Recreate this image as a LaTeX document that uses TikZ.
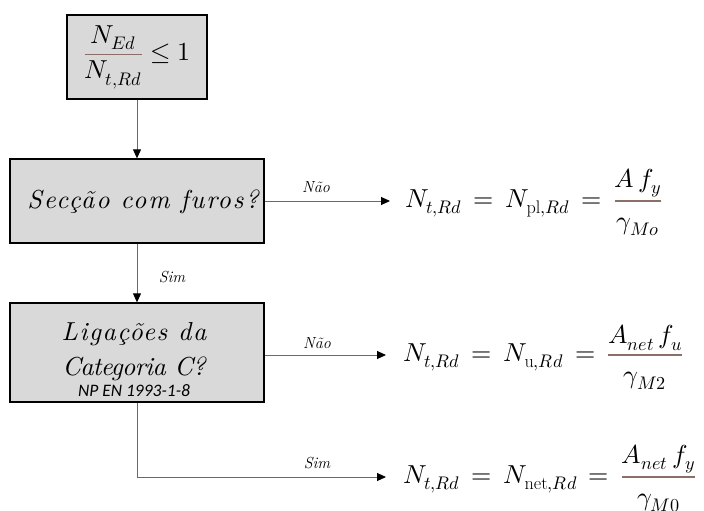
\documentclass[tikz,border=0pt]{standalone}
\usepackage{fontspec}
\usepackage{unicode-math}
\setmathfont{Latin Modern Math}
\newfontfamily\carlito{Carlito}
% tracked italic faces for the box lettering
\newfontfamily\itwide[LetterSpace=7]{lmroman10-italic.otf}
\newfontfamily\itmid[LetterSpace=6]{lmroman10-italic.otf}
\newfontfamily\itnarrow[LetterSpace=-2.5]{lmroman10-italic.otf}
\usetikzlibrary{arrows.meta}

\definecolor{boxfill}{RGB}{217,217,217}
\definecolor{linegray}{RGB}{105,105,105}
\definecolor{fracrule}{RGB}{140,110,105}

% fraction whose rule is drawn in a warm grey, terms stay black;
% the strut gives the denominator some extra drop
\newcommand{\rfrac}[2]{{\color{fracrule}\frac{\color{black}#1}{\color{black}\rule{0pt}{0.95em}#2}}}
% relation sign with a little extra room
\newcommand{\weq}{\,=\,}

\tikzset{
  qbox/.style={draw=black, line width=1.3pt, fill=boxfill, inner sep=0pt},
  conn/.style={draw=linegray, line width=0.9pt},
  arr/.style={conn, -{Triangle[length=9pt,width=8pt,color=black]}},
  tag/.style={font=\fontsize{16}{18}\selectfont\itshape, inner sep=0pt},
  boxtext/.style={inner sep=0pt, anchor=base},
  formula/.style={font=\fontsize{26}{30}\selectfont, inner sep=0pt, anchor=base west},
}

\begin{document}
\begin{tikzpicture}[x=1pt,y=-1pt]
  \useasboundingbox (0,0) rectangle (704,511);

  % decision boxes
  \node[qbox, minimum width=140pt, minimum height=84pt, font=\fontsize{26}{30}\selectfont]
    (b1) at (137,57) {$\displaystyle {\color{fracrule}\frac{\color{black}N_{Ed}}{\color{black}N_{t,Rd}}} \leq 1$};
  \node[qbox, minimum width=254pt, minimum height=84pt] (b2) at (137,201) {};
  \node[boxtext, font=\itwide\fontsize{26}{30}\selectfont] (b2t) at (143,208) {Secção com furos?};
  \node[qbox, minimum width=254pt, minimum height=99pt] (b3) at (137,352.5) {};
  \node[boxtext, font=\itmid\fontsize{26}{30}\selectfont] (b3a) at (134,340) {Ligações da};
  \node[boxtext, font=\itnarrow\fontsize{26}{30}\selectfont] (b3b) at (134,375) {Categoria C?};
  \node[boxtext, font=\fontsize{17.5}{20}\selectfont\carlito\itshape]
    (b3n) at (134,396) {NP EN 1993-1-8};

  % arrow tips in front of each result
  \coordinate (t1) at (390,201);
  \coordinate (t2) at (386,355);
  \coordinate (t3) at (386,477);

  % results
  \node[formula] (f1) at ([xshift=15pt,yshift=-6.5pt]t1)
    {$\displaystyle N_{t,Rd} \weq N_{\mathrm{pl},Rd} \weq \rfrac{A\,f_y}{\gamma_{Mo}}$};
  \node[formula] (f2) at ([xshift=17pt,yshift=-6.5pt]t2)
    {$\displaystyle N_{t,Rd} \weq N_{\mathrm{u},Rd} \weq \rfrac{A_{net}\,f_u}{\gamma_{M2}}$};
  \node[formula] (f3) at ([xshift=17pt,yshift=-6.5pt]t3)
    {$\displaystyle N_{t,Rd} \weq N_{\mathrm{net},Rd} \weq \rfrac{A_{net}\,f_y}{\gamma_{M0}}$};

  % connectors
  \draw[arr] (b1.south) -- (b2.north);
  \draw[arr] (b2.south) -- (b3.north);
  \draw[arr] (b2.east) -- (t1);
  \draw[arr] (b3.east |- t2) -- (t2);
  \draw[arr] (b3.south) |- (t3);

  % branch labels
  \node[tag] (n1) at (316,187) {Não};
  \node[tag] (s1) at (172,277) {Sim};
  \node[tag] (n2) at (317,343) {Não};
  \node[tag] (s2) at (317,463) {Sim};
\end{tikzpicture}
\end{document}
